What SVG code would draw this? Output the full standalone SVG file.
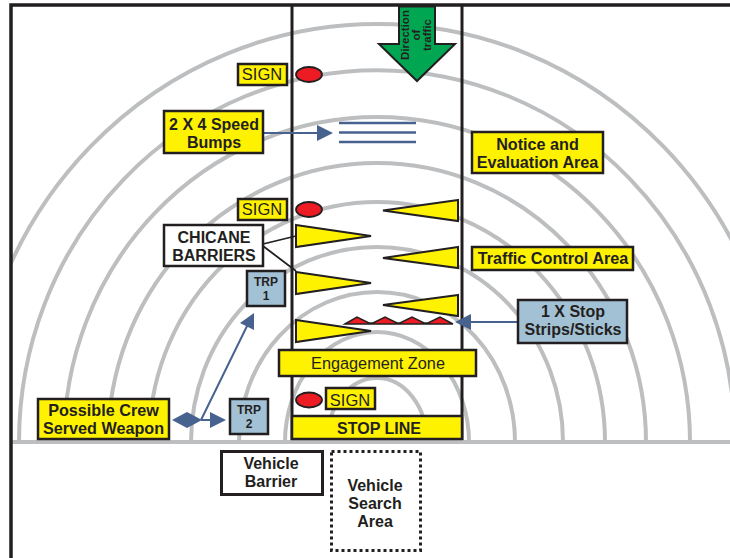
<svg xmlns="http://www.w3.org/2000/svg" width="730" height="558" viewBox="0 0 730 558">
<style>
text{font-family:"Liberation Sans",Arial,sans-serif;fill:#231f20;text-anchor:middle}
.b{font-weight:bold}
.arc{fill:none;stroke:#bcbec0;stroke-width:4}
.box{stroke:#231f20;stroke-width:2.5}
.y{fill:#fff200}.w{fill:#fff}.t{fill:#a3c1d4}
.tri{fill:#fff200;stroke:#231f20;stroke-width:2}
.oval{fill:#ed1c24;stroke:#231f20;stroke-width:1.8}
.frame{fill:none;stroke:#231f20;stroke-width:3}
.conn{fill:none;stroke:#47628f;stroke-width:2}
.head{fill:#47628f}
</style>
<defs><clipPath id="c"><rect x="11" y="5" width="719" height="438"/></clipPath></defs>
<rect width="730" height="558" fill="#fff"/>
<g id="arcs" clip-path="url(#c)">
<path class="arc" d="M327 442A50 64 0 0 1 427 442"/>
<path class="arc" d="M285 442A92 110 0 0 1 469 442"/>
<path class="arc" d="M239 442A138 150 0 0 1 515 442"/>
<path class="arc" d="M191 442A186 195 0 0 1 563 442"/>
<path class="arc" d="M149 442A228 240 0 0 1 605 442"/>
<path class="arc" d="M108 442A269 279 0 0 1 646 442"/>
<path class="arc" d="M64 442A313 325 0 0 1 690 442"/>
<path class="arc" d="M19 442A358 372 0 0 1 735 442"/>
<path class="arc" d="M-28 442A405 418 0 0 1 782 442"/>
</g>
<path d="M11 442H730" fill="none" stroke="#bcbec0" stroke-width="4"/>
<g id="frame">
<path d="M730 5H11V558" fill="none" stroke="#231f20" stroke-width="3.5"/>
<path class="frame" d="M292 5V440M462 5V440"/>
</g>
<g id="direction">
<path d="M399 6.500V44H379L417 81L455 44H435V6.500Z" fill="#00a651" stroke="#231f20" stroke-width="2"/>
<g transform="translate(417 35) rotate(-90)"><text class="b" y="-8" font-size="11.500">Direction</text><text class="b" y="3" font-size="11.500">of</text><text class="b" y="14" font-size="11.500">traffic</text></g>
</g>
<g id="connectors">
<path class="conn" d="M263 133H318M518 322H470M201 420L249 322M201 420H213"/>
<path d="M333 133L317 125V141ZM455 322L471 314V330ZM254 313L240 323L254 330ZM226 420L210 412V428Z" class="head"/>
<path d="M263 244L296 236M263 246L296 271" fill="none" stroke="#231f20" stroke-width="1.800"/>
</g>
<g id="sign1"><rect class="box y" x="238" y="64" width="49" height="21"/><text x="262" y="80" font-size="16.500">SIGN</text></g>
<ellipse id="oval1" class="oval" cx="309" cy="74.500" rx="13" ry="7.500"/>
<g id="bumps"><path d="M339 123H416M339 132.500H416M339 142H416" fill="none" stroke="#47628f" stroke-width="2.500"/></g>
<g id="speed"><rect class="box y" x="164" y="111" width="99" height="42"/><text class="b" x="214" y="129.500" font-size="16">2 X 4 Speed</text><text class="b" x="214" y="147.500" font-size="16">Bumps</text></g>
<g id="notice"><rect class="box y" x="472" y="132" width="131" height="41"/><text class="b" x="537.500" y="150" font-size="16.200">Notice and</text><text class="b" x="537.500" y="168" font-size="16.200">Evaluation Area</text></g>
<g id="sign2"><rect class="box y" x="238" y="199" width="49" height="21"/><text x="262" y="215" font-size="16.500">SIGN</text></g>
<ellipse id="oval2" class="oval" cx="309" cy="209.500" rx="13" ry="7.500"/>
<g id="chicane"><rect class="box w" x="164" y="225" width="99" height="41"/><text class="b" x="214" y="243" font-size="16">CHICANE</text><text class="b" x="214" y="261" font-size="16">BARRIERS</text></g>
<g id="barriers">
<path class="tri" d="M296 225L371 236L296 247Z"/><path class="tri" d="M296 272L371 283L296 294Z"/>
<path class="tri" d="M458 200L383 210.500L458 221Z"/><path class="tri" d="M458 247L383 258L458 268Z"/><path class="tri" d="M458 295L383 305L458 316Z"/>
<path d="M345 324L357 317L369 323L373 323L385 317L397 323L400 323L412 317L424 323L428 323L440 317L453 324Z" fill="#ed1c24" stroke="#231f20" stroke-width="1.500"/>
<path class="tri" d="M296 320L371 331L296 342Z"/>
</g>
<g id="traffic"><rect class="box y" x="472" y="247" width="161" height="23"/><text class="b" x="553" y="264" font-size="16.200">Traffic Control Area</text></g>
<g id="trp1"><rect class="box t" x="247" y="271" width="38" height="35"/><text class="b" x="266" y="286" font-size="12">TRP</text><text class="b" x="266" y="300" font-size="12">1</text></g>
<g id="stop"><rect class="box t" x="518" y="300" width="109" height="43"/><text class="b" x="573" y="317" font-size="16">1 X Stop</text><text class="b" x="573" y="335" font-size="16">Strips/Sticks</text></g>
<g id="engagement"><rect class="box y" x="279" y="350" width="197" height="26"/><text x="378" y="369" font-size="16.300">Engagement Zone</text></g>
<ellipse id="oval3" class="oval" cx="309" cy="400" rx="13" ry="7.500"/>
<g id="sign3"><rect class="box y" x="326" y="388" width="49" height="21"/><text x="350" y="406" font-size="16.500">SIGN</text></g>
<g id="stopline"><rect class="box y" x="292" y="416" width="170" height="23"/><text class="b" x="379" y="434" font-size="16">STOP LINE</text></g>
<g id="crew"><rect class="box y" x="38" y="399" width="131" height="40"/><text class="b" x="103.500" y="416" font-size="16.200">Possible Crew</text><text class="b" x="103.500" y="434" font-size="16.200">Served Weapon</text></g>
<path id="weapon" class="head" d="M172 420L187 412L202 420L187 428Z"/>
<g id="trp2"><rect class="box t" x="230" y="399" width="38" height="35"/><text class="b" x="249" y="414" font-size="12">TRP</text><text class="b" x="249" y="428" font-size="12">2</text></g>
<g id="barrier"><rect x="221.500" y="451.500" width="101" height="43" fill="#fff" stroke="#231f20" stroke-width="3"/><text class="b" x="271" y="469" font-size="16">Vehicle</text><text class="b" x="271" y="487" font-size="16">Barrier</text></g>
<g id="search"><rect x="331.500" y="451.500" width="89" height="99" fill="#fff" stroke="#231f20" stroke-width="3" stroke-dasharray="3 3"/><text class="b" x="375" y="491" font-size="16">Vehicle</text><text class="b" x="375" y="509" font-size="16">Search</text><text class="b" x="375" y="527" font-size="16">Area</text></g>
</svg>
